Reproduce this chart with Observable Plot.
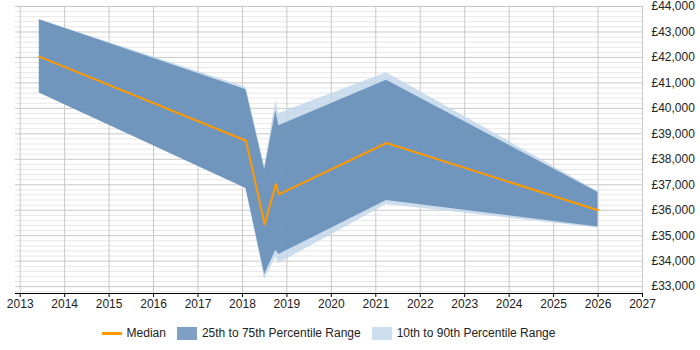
<!DOCTYPE html>
<html>
<head>
<meta charset="utf-8">
<script src="https://cdn.jsdelivr.net/npm/d3@7"></script>
<script src="https://cdn.jsdelivr.net/npm/@observablehq/plot@0.6"></script>
<style>
  html, body { margin: 0; padding: 0; background: #fff; }
  body { width: 700px; height: 350px; font-family: "Liberation Sans", Arial, sans-serif; }
  #legend {
    display: flex; align-items: center; justify-content: center;
    margin-left: 15px; width: 627px; height: 20px; margin-top: 12px;
    font-size: 12px; color: #222;
  }
  #legend .item { display: flex; align-items: center; }
  #legend .item + .item { margin-left: 11px; }
  #legend .line { width: 20px; height: 3px; background: #ff9900; margin-right: 5px; }
  #legend .box { width: 20px; height: 13px; margin-right: 5px; }
</style>
</head>
<body>
<div id="chart"></div>
<div id="legend">
  <div class="item"><span class="line"></span>Median</div>
  <div class="item"><span class="box" style="background:#7ea0c4"></span>25th to 75th Percentile Range</div>
  <div class="item"><span class="box" style="background:#cddeee"></span>10th to 90th Percentile Range</div>
</div>
<script>
// Salary percentiles over time (fractional years)
const years  = [2013.43, 2018.08, 2018.5, 2018.75, 2018.82, 2021.24, 2026.0];
const median = [42030, 38730, 35440, 37030, 36620, 38640, 36000];
const p25    = [40600, 36850, 33480, 34430, 34260, 36380, 35340];
const p75    = [43480, 40730, 37600, 39900, 39320, 41100, 36700];
const p10    = [40600, 36850, 33280, 34150, 33910, 36220, 35300];
const p90    = [43490, 40830, 37720, 40300, 39800, 41400, 36740];

// Axis ticks
const yearTicks = [2013, 2014, 2015, 2016, 2017, 2018, 2019, 2020, 2021, 2022, 2023, 2024, 2025, 2026, 2027];
const salaryTicks = [33000, 34000, 35000, 36000, 37000, 38000, 39000, 40000, 41000, 42000, 43000, 44000];
const minorTicks = d3.range(32800, 44001, 200).filter(v => v % 1000 !== 0);

const rows = years.map((x, i) => ({
  x, median: median[i], p10: p10[i], p25: p25[i], p75: p75[i], p90: p90[i]
}));

const fmt = v => "£" + d3.format(",")(v);

const chart = Plot.plot({
  width: 700,
  height: 311,
  marginTop: 6,
  marginBottom: 18,
  marginLeft: 15,
  marginRight: 58,
  style: { fontFamily: "Liberation Sans, Arial, sans-serif", fontSize: "12px", color: "#222", background: "#fff" },
  x: { domain: [2012.894, 2027], type: "linear" },
  y: { domain: [32730, 44000] },
  marks: [
    Plot.ruleY(minorTicks, { stroke: "#e6e6e6", strokeWidth: 1 }),
    Plot.ruleY(salaryTicks, { stroke: "#c8c8c8", strokeWidth: 1 }),
    Plot.ruleX(yearTicks, { stroke: "#c8c8c8", strokeWidth: 1 }),
    Plot.areaY(rows, { x: "x", y1: "p10", y2: "p90", fill: "rgb(195,215,234)", fillOpacity: 0.85 }),
    Plot.areaY(rows, { x: "x", y1: "p25", y2: "p75", fill: "rgb(89,132,178)", fillOpacity: 0.8 }),
    Plot.lineY(rows, { x: "x", y: "median", stroke: "#ff9900", strokeWidth: 2 }),
    Plot.axisX({ ticks: yearTicks, tickFormat: d => String(d), tickSize: 4, tickPadding: 2, label: null, stroke: "#000" }),
    Plot.ruleY([32730], { stroke: "#000", strokeWidth: 1.2 }),
    Plot.axisY({ anchor: "right", ticks: salaryTicks, tickFormat: fmt, tickSize: 0, tickPadding: 9, label: null })
  ]
});
document.getElementById("chart").appendChild(chart);
</script>
</body>
</html>
